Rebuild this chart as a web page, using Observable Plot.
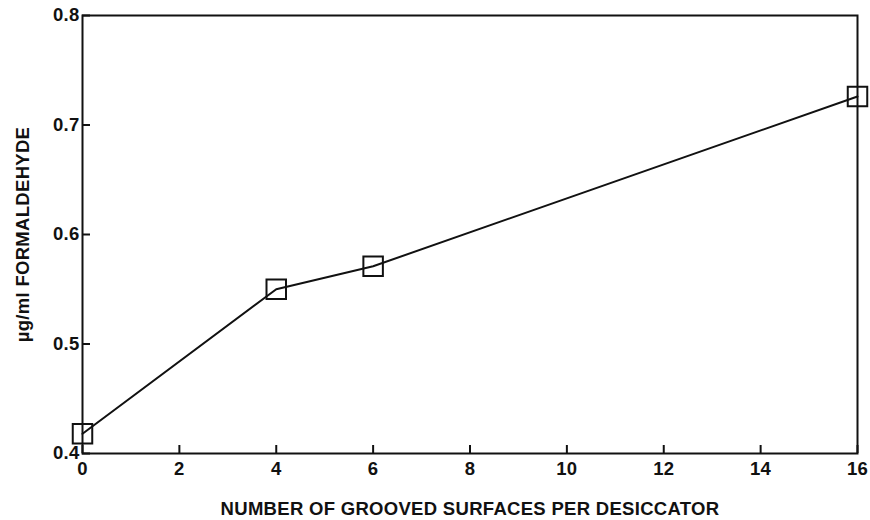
<!DOCTYPE html>
<html>
<head>
<meta charset="utf-8">
<script src="https://cdn.jsdelivr.net/npm/d3@7"></script>
<script src="https://cdn.jsdelivr.net/npm/@observablehq/plot@0.6"></script>
<style>
  body { margin: 0; background: #fff; }
</style>
</head>
<body>
<div id="chart"></div>
<script>
const surfaces = [0, 4, 6, 16];
const formaldehyde = [0.418, 0.550, 0.571, 0.726];
const xTicks = [0, 2, 4, 6, 8, 10, 12, 14, 16];
const yTicks = [0.4, 0.5, 0.6, 0.7, 0.8];
const xLabel = "NUMBER OF GROOVED SURFACES PER DESICCATOR";
const yLabel = "µg/ml FORMALDEHYDE";

const data = surfaces.map((x, i) => ({x, y: formaldehyde[i]}));

const chart = Plot.plot({
  width: 870,
  height: 520,
  marginLeft: 82,
  marginRight: 13,
  marginTop: 15,
  marginBottom: 67,
  style: {fontFamily: "'Liberation Sans', Arial, sans-serif", fontWeight: "bold", color: "#111", fontSize: "18.5px"},
  x: {domain: [0, 16]},
  y: {domain: [0.4, 0.8]},
  marks: [
    Plot.frame({stroke: "#111", strokeWidth: 2}),
    Plot.axisX({ticks: xTicks, tickSize: -8, tickPadding: 16, tickFormat: d => String(d),
      label: xLabel, labelAnchor: "center", labelArrow: "none", labelOffset: 61, strokeWidth: 2}),
    Plot.axisY({ticks: yTicks, tickSize: -8, tickPadding: 11, tickFormat: d3.format(".1f"),
      label: yLabel, labelAnchor: "center", labelArrow: "none", labelOffset: 67, strokeWidth: 2}),
    Plot.line(data, {x: "x", y: "y", stroke: "#111", strokeWidth: 2}),
    Plot.dot(data, {x: "x", y: "y", symbol: "square", r: 11, stroke: "#111", strokeWidth: 2, fill: "none"})
  ]
});
d3.select(chart).selectAll("text")
  .style("font-size", "18.5px")
  .style("font-weight", "bold")
  .style("letter-spacing", "0.3px");
document.getElementById("chart").appendChild(chart);
</script>
</body>
</html>
